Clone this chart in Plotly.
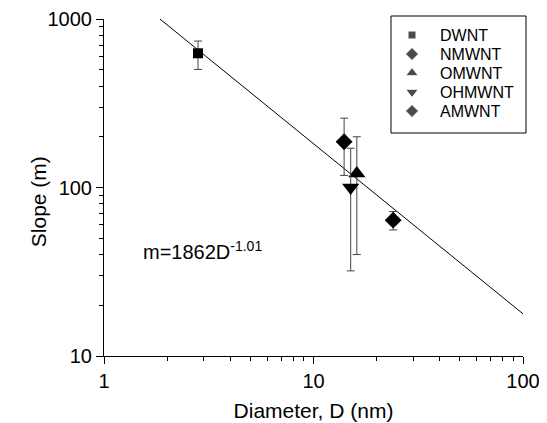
import plotly.graph_objects as go

# Data
names = ["DWNT", "NMWNT", "OMWNT", "OHMWNT", "AMWNT"]
diameter = [2.81, 14.0, 16.1, 15.05, 24.0]
slope = [626, 187, 121, 100, 64]
err_plus = [114, 71, 79, 71, 8]
err_minus = [124, 69, 81, 68, 8]
symbols = ["square", "diamond", "triangle-up", "triangle-down", "diamond"]
sizes = [10, 13, 15, 15, 13]
legend_sizes = [8, 10, 11, 11, 10]

# Power-law fit m = 1862 D^-1.01, drawn between its end points
fit_x = [1.84, 100]
fit_y = [1005, 17.8]

x_ticks = [1, 10, 100]
y_ticks = [10, 100, 1000]

FONT = "Liberation Sans, Arial, sans-serif"

# page body has an 8px margin; compensate so the plot area sits at
# x 104..523, y 19..356 of the 547x423 window
BODY = 8
PL, PR, PT, PB = 104, 523, 19, 356
W, H = 547 - BODY, 423 - BODY


def px(xp):
    return (xp - PL) / (PR - PL)


def py(yp):
    return (PB - yp) / (PB - PT)


fig = go.Figure()

fig.add_trace(go.Scatter(
    x=fit_x, y=fit_y, mode="lines",
    line=dict(color="black", width=1), showlegend=False, hoverinfo="skip"))

for n, xv, yv, ep, em, s, sz in zip(names, diameter, slope, err_plus, err_minus, symbols, sizes):
    fig.add_trace(go.Scatter(
        x=[xv], y=[yv], mode="markers", name=n, showlegend=False,
        marker=dict(symbol=s, size=sz, color="black"),
        error_y=dict(type="data", symmetric=False, array=[ep], arrayminus=[em],
                     color="#444444", thickness=1, width=4)))

# ---- hand-laid legend on an overlay axis measured in window pixels ----
leg_box = (391, 16, 526, 133)
leg_sym_x = 412
leg_text_x = 438
leg_rows = [35, 54, 73, 92, 111]

fig.add_trace(go.Scatter(
    x=[leg_sym_x] * len(names), y=leg_rows, xaxis="x2", yaxis="y2",
    mode="markers", showlegend=False, hoverinfo="skip", cliponaxis=False,
    marker=dict(symbol=symbols, size=legend_sizes, color="black")))

fig.add_shape(type="rect", xref="paper", yref="paper",
              x0=px(leg_box[0]), y0=py(leg_box[1]), x1=px(leg_box[2]), y1=py(leg_box[3]),
              line=dict(color="black", width=1), fillcolor="rgba(0,0,0,0)", layer="above")

for n, ry in zip(names, leg_rows):
    fig.add_annotation(x=leg_text_x, y=ry, xref="x2", yref="y2", xanchor="left",
                       yanchor="middle", text=n, showarrow=False,
                       font=dict(family=FONT, size=16, color="black"))

fig.add_annotation(
    x=141, y=250, xref="x2", yref="y2", xanchor="left", yanchor="middle",
    text="m=1862D<sup>-1.01</sup>", showarrow=False,
    font=dict(family=FONT, size=20, color="black"))

fig.add_annotation(
    x=px(25), y=py(201.7), xref="paper", yref="paper",
    text="Slope (m)", textangle=-90, showarrow=False,
    font=dict(family=FONT, size=21, color="black"))

axis_common = dict(
    type="log", showgrid=False, zeroline=False, showline=True, linecolor="black",
    linewidth=1, ticks="outside", ticklen=7, tickcolor="black", tickwidth=1,
    tickfont=dict(family=FONT, size=20, color="black"),
    minor=dict(ticks="outside", ticklen=4, tickcolor="black", dtick="D1", showgrid=False),
    mirror=False, automargin=False, ticklabeloverflow="allow")

fig.update_layout(
    xaxis=dict(range=[0, 2], tickvals=x_ticks, ticktext=[str(v) for v in x_ticks],
               title=dict(text="Diameter, D (nm)",
                          font=dict(family=FONT, size=21, color="black"), standoff=12),
               **axis_common),
    yaxis=dict(range=[1, 3], tickvals=y_ticks, ticktext=[str(v) for v in y_ticks],
               **axis_common),
    xaxis2=dict(range=[PL, PR], overlaying="x", visible=False, anchor="y2",
                automargin=False),
    yaxis2=dict(range=[PB, PT], overlaying="y", visible=False, anchor="x2",
                automargin=False),
    width=W, height=H,
    margin=dict(l=PL - BODY, r=W - (PR - BODY), t=PT - BODY, b=H - (PB - BODY),
                autoexpand=False),
    paper_bgcolor="white", plot_bgcolor="white",
    font=dict(family=FONT, color="black"),
    showlegend=False,
)

fig.write_html("out.html")
